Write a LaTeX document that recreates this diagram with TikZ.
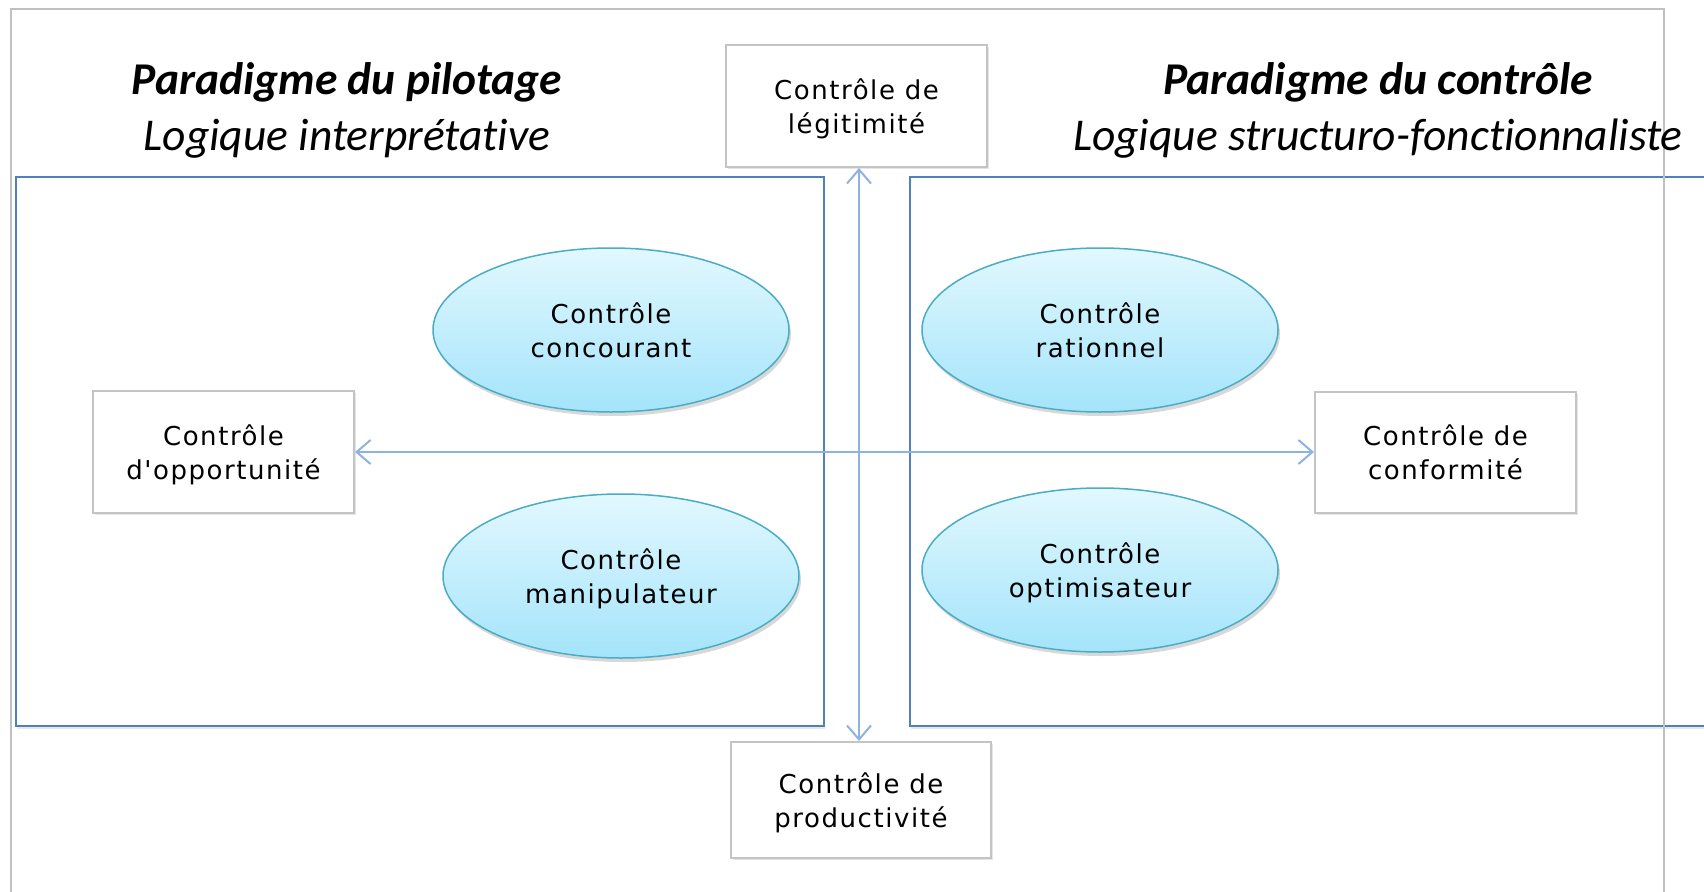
\documentclass[tikz,border=0pt]{standalone}
\usepackage{fontspec}
\setmainfont{Carlito}[Ligatures={TeX,NoCommon}]
\newfontfamily\boxfont[LetterSpace=6]{DejaVu Sans}
\usetikzlibrary{shapes.geometric,shadows,arrows.meta}
\definecolor{framegray}{HTML}{C0C0C0}
\definecolor{paneblue}{HTML}{4F81BD}
\definecolor{arrowblue}{HTML}{8DB3E2}
\definecolor{elltop}{HTML}{E2F8FF}
\definecolor{ellbot}{HTML}{A4E4FA}
\definecolor{ellline}{HTML}{4BACC6}
\definecolor{boxline}{HTML}{C4C4C4}
\begin{document}
\begin{tikzpicture}[x=1pt,y=-1pt,
 pane/.style={rectangle,draw=paneblue,line width=2pt,fill=white,inner sep=0pt,
   drop shadow={opacity=0.18,shadow xshift=1pt,shadow yshift=-3pt}},
 ctrlbox/.style={rectangle,draw=boxline,line width=2pt,fill=white,align=center,inner sep=0pt,
   text depth=0pt,font=\boxfont\fontsize{26}{34}\selectfont,
   drop shadow={opacity=0.2,shadow xshift=1.5pt,shadow yshift=-2pt}},
 ctrlell/.style={ellipse,draw=ellline,line width=1.5pt,top color=elltop,bottom color=ellbot,
   minimum width=356pt,minimum height=164pt,inner sep=0pt,align=center,text depth=0pt,
   font=\boxfont\fontsize{26}{34}\selectfont,
   drop shadow={opacity=0.3,shadow xshift=2pt,shadow yshift=-4pt}},
 arr/.style={draw=arrowblue,line width=2pt,
   {Straight Barb[length=14pt,width=24pt]}-{Straight Barb[length=14pt,width=24pt]}},
 titleb/.style={font=\fontsize{45.5}{52}\selectfont\bfseries\itshape,inner sep=0pt},
 titlei/.style={font=\fontsize{45.5}{52}\selectfont\itshape,inner sep=0pt},
 frameline/.style={draw=framegray,line width=1.5pt}
]
\useasboundingbox (0,0) rectangle (1704,891);
\fill[white] (0,0) rectangle (1704,891);

% panes
\node[pane,minimum width=808pt,minimum height=549pt] (lpane) at (420,451.5) {};
\node[pane,minimum width=810pt,minimum height=549pt] (rpane) at (1315,451.5) {};

% outer frame
\draw[frameline] (11,1000) -- (11,9) -- (1664,9) -- (1664,1000);

% boxes
\node[ctrlbox,minimum width=261pt,minimum height=122pt] (legit) at (856.5,106) {Contrôle de\\légitimité};
\node[ctrlbox,minimum width=260pt,minimum height=116pt] (prod) at (861,800) {Contrôle de\\productivité};
\node[ctrlbox,minimum width=261pt,minimum height=122pt] (opp) at (223.5,452) {Contrôle\\d'opportunité};
\node[ctrlbox,minimum width=261pt,minimum height=121pt] (conf) at (1445.5,452) {Contrôle de\\conformité};

% arrows
\coordinate (vx) at (859,0);
\draw[arr] (legit.south -| vx) -- (prod.north -| vx);
\draw[arr] (opp.east) -- (conf.west);

% ellipses
\node[ctrlell] (conc) at (611,330) {Contrôle\\concourant};
\node[ctrlell] (manip) at (621,576) {Contrôle\\manipulateur};
\node[ctrlell] (ratio) at (1100,330) {Contrôle\\rationnel};
\node[ctrlell] (optim) at (1100,570) {Contrôle\\optimisateur};

% titles
\node[titleb] (t1) at (347,82) {Paradigme du pilotage};
\node[titlei] (t2) at (347,139) {Logique interprétative};
\node[titleb] (t3) at (1378,82) {Paradigme du contrôle};
\node[titlei] (t4) at (1378,139) {Logique structuro-fonctionnaliste};
\end{tikzpicture}
\end{document}
